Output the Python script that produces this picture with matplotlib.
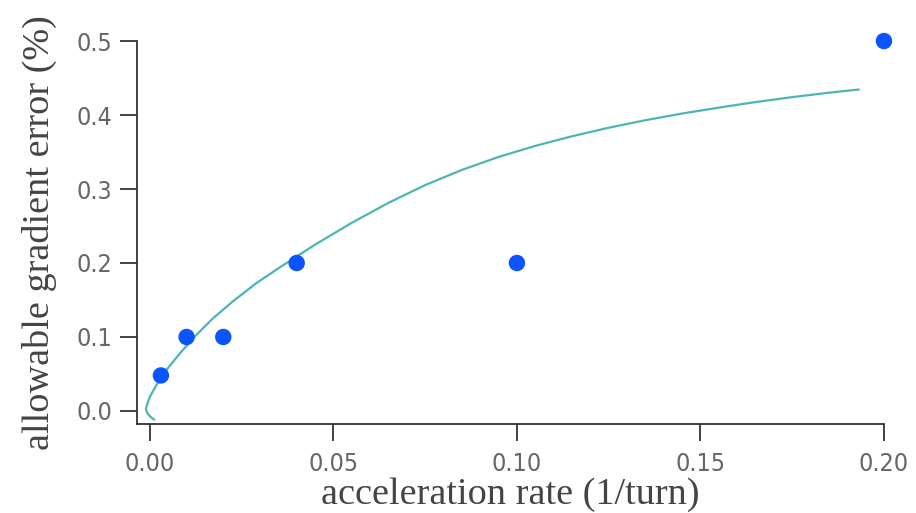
import matplotlib
matplotlib.use("Agg")
import matplotlib.pyplot as plt

# measured points
accel_rate = [0.003, 0.01, 0.02, 0.04, 0.10, 0.20]
grad_error = [0.048, 0.10, 0.10, 0.20, 0.20, 0.50]

# fit curve (starts at the little hook near the origin)
fit_x = [0.0012, 0.0002, -0.0007, -0.0011, -0.0006, 0.0000, 0.0018, 0.0045,
         0.0082, 0.0122, 0.0172, 0.0227, 0.0290, 0.0363, 0.0450, 0.0550,
         0.0650, 0.0750, 0.0850, 0.0950, 0.1050, 0.1150, 0.1250, 0.1350,
         0.1450, 0.1550, 0.1650, 0.1750, 0.1850, 0.1932]
fit_y = [-0.0118, -0.0080, -0.0030, 0.0030, 0.0110, 0.0193, 0.0351, 0.0554,
         0.0780, 0.1004, 0.1253, 0.1485, 0.1728, 0.1970, 0.2248, 0.2543,
         0.2813, 0.3053, 0.3258, 0.3433, 0.3583, 0.3713, 0.3828, 0.3930,
         0.4020, 0.4100, 0.4175, 0.4242, 0.4302, 0.4345]

x_ticks = [0.00, 0.05, 0.10, 0.15, 0.20]
y_ticks = [0.0, 0.1, 0.2, 0.3, 0.4, 0.5]

label_font = ["Liberation Serif", "DejaVu Serif"]

fig = plt.figure(figsize=(9.16, 5.13), dpi=100)
ax = fig.add_axes([0.1496, 0.1735, 0.8154, 0.7465])

ax.plot(fit_x, fit_y, color="#4cb5b5", lw=1.6, solid_capstyle="round",
        solid_joinstyle="round", clip_on=False)
ax.scatter(accel_rate, grad_error, s=140, color="#0a55ff", edgecolors="none",
           zorder=3, clip_on=False)

ax.set_xlim(-0.0035, 0.20)
ax.set_ylim(-0.0176, 0.50)
ax.set_xticks(x_ticks)
ax.set_yticks(y_ticks)
ax.set_xticklabels([f"{v:.2f}" for v in x_ticks], family="DejaVu Sans",
                   fontstretch="condensed", fontsize=18, color="#666666")
ax.set_yticklabels([f"{v:.1f}" for v in y_ticks], family="DejaVu Sans",
                   fontstretch="condensed", fontsize=18, color="#666666")

for side in ["top", "right"]:
    ax.spines[side].set_visible(False)
for side in ["left", "bottom"]:
    ax.spines[side].set_color("#333333")
    ax.spines[side].set_linewidth(1.3)

ax.tick_params(axis="y", direction="out", length=12, width=1.3, color="#333333", pad=6)
ax.tick_params(axis="x", direction="out", length=12, width=1.3, color="#333333", pad=8)

ax.set_xlabel("acceleration rate (1/turn)", family=label_font, fontsize=27.5,
              color="#444444", labelpad=1)
ax.set_ylabel("allowable gradient error (%)", family=label_font, fontsize=27.5,
              color="#444444", labelpad=14)

fig.savefig("out.png", dpi=100)
